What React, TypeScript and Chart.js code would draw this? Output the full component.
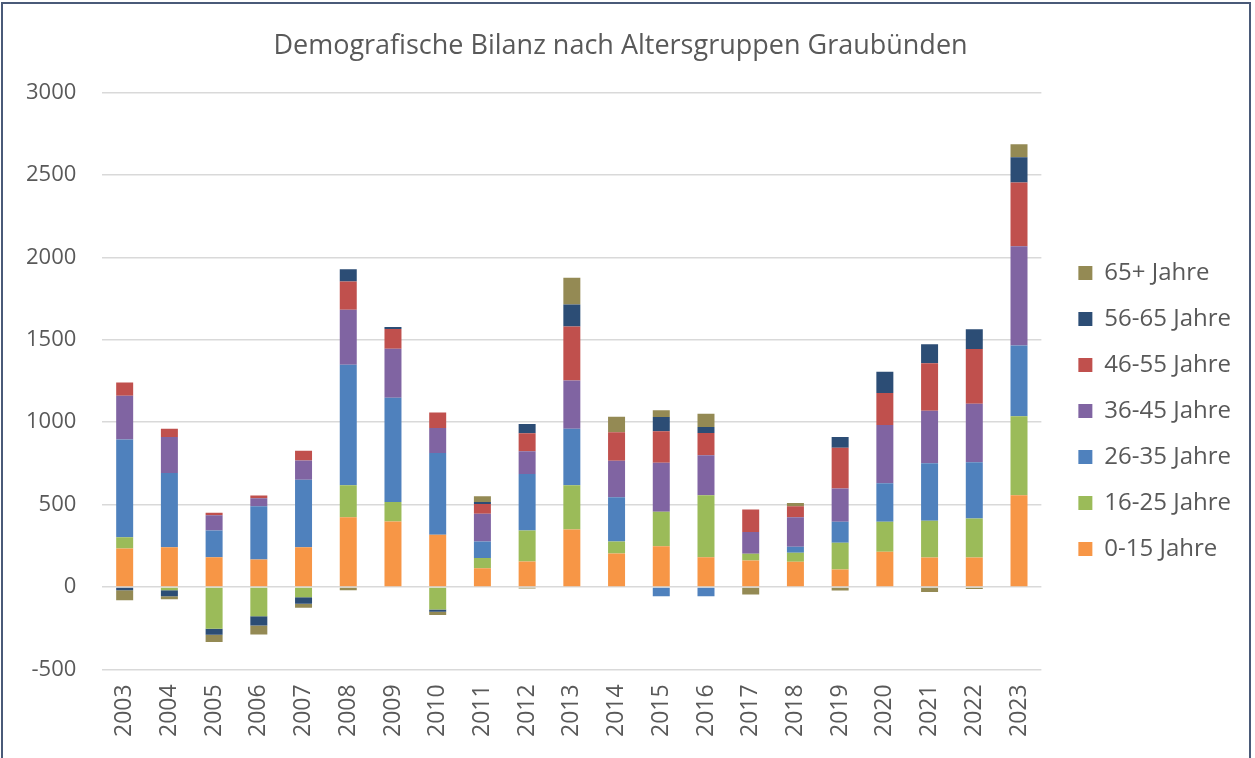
import React, { useEffect, useRef } from "react";
import { Chart, registerables, layouts } from "chart.js";

Chart.register(...registerables);

const years = ["2003","2004","2005","2006","2007","2008","2009","2010","2011","2012","2013","2014","2015","2016","2017","2018","2019","2020","2021","2022","2023"];

const age0to15 = [233, 241, 181, 167, 241, 423, 397, 316, 114, 155, 348, 203, 247, 181, 161, 153, 106, 214, 179, 179, 557];
const age16to25 = [69, -20, -253, -177, -62, 194, 119, -136, 61, 187, 269, 73, 209, 375, 40, 54, 162, 181, 222, 236, 479];
const age26to35 = [592, 451, 161, 323, 410, 731, 632, 497, 101, 344, 342, 268, -56, -56, 0, 37, 127, 234, 349, 341, 428];
const age36to45 = [266, 218, 93, 48, 116, 334, 297, 152, 168, 137, 294, 221, 297, 243, 133, 179, 202, 353, 319, 355, 603];
const age46to55 = [81, 49, 15, 17, 60, 171, 120, 94, 60, 109, 327, 173, 191, 135, 136, 67, 247, 194, 288, 333, 387];
const age56to65 = [-20, -37, -37, -56, -40, 75, 12, -14, 12, 57, 134, 0, 87, 37, 0, 0, 66, 129, 115, 119, 153];
const age65plus = [-60, -18, -44, -55, -24, -20, 0, -20, 34, -10, 162, 95, 41, 80, -45, 20, -22, 0, -30, -12, 79];

const seriesLabels = ["0-15 Jahre", "16-25 Jahre", "26-35 Jahre", "36-45 Jahre", "46-55 Jahre", "56-65 Jahre", "65+ Jahre"];
const seriesColors = ["#F79646", "#9BBB59", "#4F81BD", "#8064A2", "#C0504D", "#2C4D75", "#948A54"];

const yTicks = [-500, 0, 500, 1000, 1500, 2000, 2500, 3000];

const legendGap = {
  id: "legendGap",
  beforeInit(chart: any) {
    const box: any = {
      position: "right",
      weight: 500,
      fullSize: false,
      options: {},
      left: 0, top: 0, right: 0, bottom: 0, width: 0, height: 0,
      isHorizontal() { return false; },
      update(maxWidth: number, maxHeight: number) {
        box.width = 15;
        box.height = maxHeight;
      },
      draw() {},
    };
    layouts.addBox(chart, box);
  },
};

export default function App() {
  const canvasRef = useRef<HTMLCanvasElement | null>(null);

  useEffect(() => {
    document.body.style.margin = "0";
    const canvas = canvasRef.current;
    if (!canvas) return;
    const seriesData = [age0to15, age16to25, age26to35, age36to45, age46to55, age56to65, age65plus];
    const chart = new Chart(canvas, {
      type: "bar",
      data: {
        labels: years,
        datasets: seriesData.map((d, i) => ({
          label: seriesLabels[i],
          data: d,
          backgroundColor: seriesColors[i],
          borderWidth: 0,
          barPercentage: 0.38,
          categoryPercentage: 1,
          stack: "s",
        })),
      },
      plugins: [legendGap],
      options: {
        animation: false,
        responsive: false,
        maintainAspectRatio: false,
        layout: { padding: { left: 0, right: 14, top: 0, bottom: 6 } },
        plugins: {
          title: {
            display: true,
            text: "Demografische Bilanz nach Altersgruppen Graubünden",
            color: "#595959",
            font: { family: "Open Sans", size: 27, weight: "normal" },
            padding: { top: 30, bottom: 30 },
          },
          legend: {
            position: "right",
            reverse: true,
            title: { display: true, text: "", font: { size: 10 }, padding: { top: 58, bottom: 0 } },
            labels: {
              color: "#595959",
              font: { family: "Open Sans", size: 24 },
              boxWidth: 14,
              boxHeight: 14,
              padding: 22,
            },
          },
          tooltip: { enabled: false },
        },
        scales: {
          x: {
            stacked: true,
            grid: { display: false, drawTicks: false },
            border: { display: false },
            ticks: {
              color: "#595959",
              font: { family: "Open Sans", size: 23 },
              maxRotation: 90,
              minRotation: 90,
              padding: 15,
            },
          },
          y: {
            stacked: true,
            min: -500,
            max: 3000,
            afterBuildTicks: (axis: any) => {
              axis.ticks = yTicks.map((v) => ({ value: v }));
            },
            grid: { color: "#D9D9D9", lineWidth: 1.5, drawTicks: false },
            border: { display: false },
            ticks: {
              color: "#595959",
              font: { family: "Open Sans", size: 22 },
              padding: 26,
              callback: (v: any) => String(v),
            },
          },
        },
      },
    });
    return () => chart.destroy();
  }, []);

  return (
    <div style={{ position: "relative", width: 1255, height: 758, background: "#fff", overflow: "hidden" }}>
      <canvas ref={canvasRef} width={1255} height={758} style={{ position: "absolute", left: 0, top: 0 }} />
      <div
        style={{
          position: "absolute",
          left: 1,
          top: 2,
          width: 1250,
          height: 770,
          boxSizing: "border-box",
          border: "2px solid #4A5A78",
          pointerEvents: "none",
        }}
      />
    </div>
  );
}
